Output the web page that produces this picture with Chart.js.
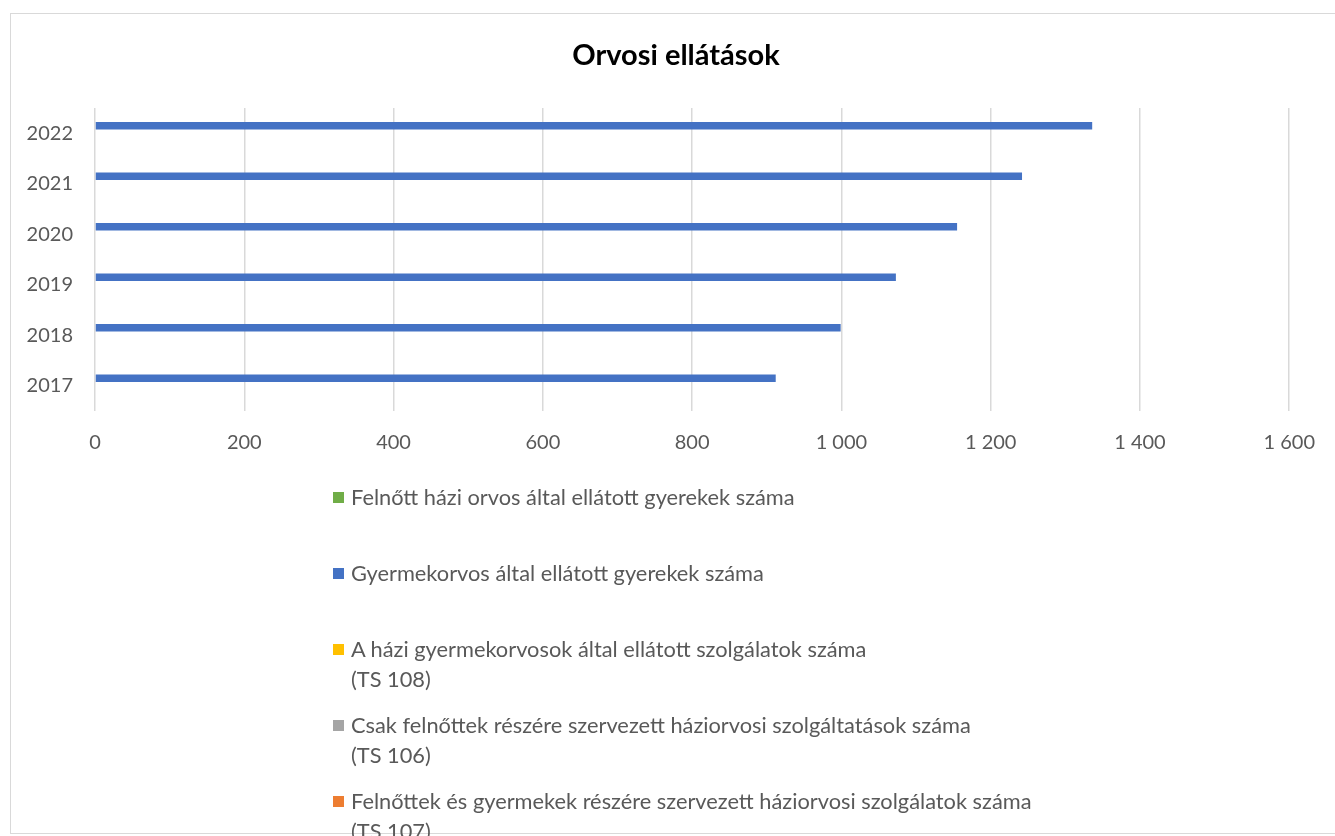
<!DOCTYPE html>
<html>
<head>
<meta charset="utf-8">
<script src="https://cdn.jsdelivr.net/npm/chart.js@4.4.1/dist/chart.umd.min.js"></script>
<style>
  html, body { margin: 0; padding: 0; background: #fff; width: 1335px; height: 836px; overflow: hidden; }
  #frame { position: absolute; left: 10px; top: 13px; width: 1400px; height: 821px; border: 1.5px solid #d9d9d9; box-sizing: border-box; }
  #wrap { position: absolute; left: 0; top: 0; width: 1335px; height: 836px; }
  #legend { position: absolute; left: 333px; top: 482px; font-family: Lato, "Noto Sans", sans-serif; font-size: 21.8px; color: #595959; }
  .item { height: 76px; display: flex; align-items: flex-start; }
  .box { width: 11px; height: 11px; margin-top: 10px; margin-right: 7px; flex: none; }
  .txt { line-height: 30px; white-space: nowrap; }
</style>
</head>
<body>
<div id="frame"></div>
<div id="wrap"><canvas id="c" width="1335" height="836"></canvas></div>
<div id="legend"></div>
<script>
// Categories (top to bottom as drawn)
const years = ['2022', '2021', '2020', '2019', '2018', '2017'];

// Series values (per year, same order as years)
const felnottHaziOrvos = [0, 0, 0, 0, 0, 0];
const gyermekorvos = [1336, 1242, 1155, 1073, 999, 912];
const haziGyermekorvosTS108 = [0, 0, 0, 0, 0, 0];
const csakFelnottTS106 = [0, 0, 0, 0, 0, 0];
const felnottGyermekTS107 = [0, 0, 0, 0, 0, 0];

// Series labels
const seriesLabels = [
  'Felnőtt házi orvos által ellátott gyerekek száma',
  'Gyermekorvos által ellátott gyerekek száma',
  'A házi gyermekorvosok által ellátott szolgálatok száma (TS 108)',
  'Csak felnőttek részére szervezett háziorvosi szolgáltatások száma (TS 106)',
  'Felnőttek és gyermekek részére szervezett háziorvosi szolgálatok száma (TS 107)'
];
const seriesColors = ['#70AD47', '#4472C4', '#FFC000', '#A5A5A5', '#ED7D31'];

// Axis ticks
const xMin = 0, xMax = 1600, xStep = 200;

const title = 'Orvosi ellátások';

const values = [felnottHaziOrvos, gyermekorvos, haziGyermekorvosTS108, csakFelnottTS106, felnottGyermekTS107];

const datasets = values.map((v, i) => ({
  label: seriesLabels[i],
  data: v,
  backgroundColor: seriesColors[i],
  borderWidth: 0,
  categoryPercentage: 0.74,
  barPercentage: 1.0,
  yAxisID: 'y'
}));

function fmt(v) {
  return String(v).replace(/\B(?=(\d{3})+(?!\d))/g, ' ');
}

const chart = new Chart(document.getElementById('c'), {
  type: 'bar',
  data: { labels: years, datasets },
  options: {
    indexAxis: 'y',
    responsive: false,
    animation: false,
    devicePixelRatio: 1,
    layout: { padding: { left: 0, right: -17, top: 0, bottom: 365 } },
    plugins: {
      legend: { display: false },
      tooltip: { enabled: false },
      title: {
        display: true,
        text: title,
        color: '#000000',
        font: { family: 'Lato, "Noto Sans", sans-serif', size: 29, weight: 'bold', lineHeight: 1.2 },
        padding: { top: 38.6, bottom: 34.6 }
      }
    },
    scales: {
      x: {
        min: xMin, max: xMax,
        ticks: {
          stepSize: xStep,
          color: '#595959',
          padding: 20,
          font: { family: 'Lato, "Noto Sans", sans-serif', size: 20 },
          callback: (v) => fmt(v)
        },
        grid: { color: '#d9d9d9', lineWidth: 1.5, drawTicks: false },
        border: { display: false },
        afterFit: (s) => { s.height = 60; }
      },
      y: {
        ticks: {
          color: '#595959',
          padding: 22,
          font: { family: 'Lato, "Noto Sans", sans-serif', size: 20 }
        },
        grid: { display: false, drawTicks: false },
        border: { display: false },
        afterFit: (s) => { s.width = 95; }
      },
      y2: {
        type: 'category',
        position: 'right',
        labels: years,
        ticks: { display: false },
        grid: { display: false, drawTicks: false },
        border: { display: false },
        afterFit: (s) => { s.width = 62; }
      }
    }
  }
});

// Legend built from the chart's datasets
const legend = document.getElementById('legend');
chart.data.datasets.forEach(ds => {
  const item = document.createElement('div');
  item.className = 'item';
  const box = document.createElement('div');
  box.className = 'box';
  box.style.background = ds.backgroundColor;
  const txt = document.createElement('div');
  txt.className = 'txt';
  const parts = ds.label.split(' (TS');
  txt.appendChild(document.createTextNode(parts[0]));
  if (parts.length > 1) {
    txt.appendChild(document.createElement('br'));
    txt.appendChild(document.createTextNode('(TS' + parts[1]));
  }
  item.appendChild(box);
  item.appendChild(txt);
  legend.appendChild(item);
});
</script>
</body>
</html>
